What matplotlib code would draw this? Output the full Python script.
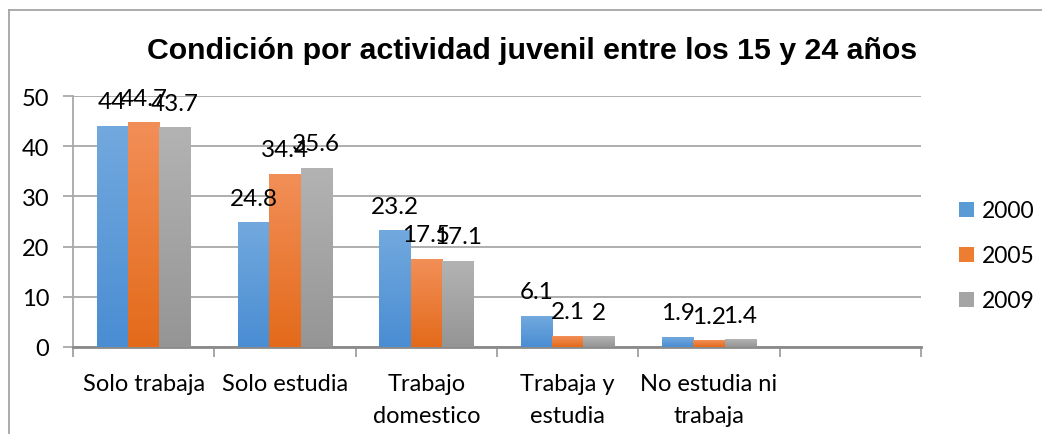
import numpy as np
import matplotlib.pyplot as plt
from matplotlib.colors import LinearSegmentedColormap
from matplotlib.lines import Line2D
from matplotlib.patches import Patch

# ---------------------------------------------------------------------------
# Data
# ---------------------------------------------------------------------------
categories = ['Solo trabaja', 'Solo estudia', 'Trabajo\ndomestico',
              'Trabaja y\nestudia', 'No estudia ni\ntrabaja', '']
years = ['2000', '2005', '2009']
v2000 = [44, 24.8, 23.2, 6.1, 1.9, None]
v2005 = [44.7, 34.4, 17.5, 2.1, 1.2, None]
v2009 = [43.7, 35.6, 17.1, 2, 1.4, None]
series = [v2000, v2005, v2009]

# gradient colours (top, bottom) per series
grad_colors = [('#72A9DE', '#4A8DD3'),
               ('#F28F58', '#E36A1A'),
               ('#B3B3B3', '#959595')]
legend_colors = ['#5B9BD5', '#ED7D31', '#A5A5A5']

TITLE = 'Condición por actividad juvenil entre los 15 y 24 años'
FONT = 'Lato'
FS = 17

# ---------------------------------------------------------------------------
# Figure
# ---------------------------------------------------------------------------
fig = plt.figure(figsize=(10.42, 4.35), dpi=100)
ax = fig.add_axes([73 / 1042, 1 - 348 / 435, (921 - 73) / 1042, (348 - 97) / 435])

n = len(categories)
x = np.arange(n)
bar_w = 0.222

for i, vals in enumerate(series):
    heights = [v if v is not None else 0 for v in vals]
    bars = ax.bar(x + (i - 1) * bar_w, heights, width=bar_w,
                  color=legend_colors[i], zorder=2, linewidth=0)
    cmap = LinearSegmentedColormap.from_list('g%d' % i, [grad_colors[i][1], grad_colors[i][0]])
    grad = np.linspace(0, 1, 256).reshape(-1, 1)
    for b, v in zip(bars, vals):
        if v is None:
            continue
        x0, w, h = b.get_x(), b.get_width(), b.get_height()
        ax.imshow(grad, extent=[x0, x0 + w, 0, h], origin='lower', aspect='auto',
                  cmap=cmap, zorder=3, interpolation='bilinear')
        ax.annotate(f'{v:g}', (x0 + w / 2, h), xytext=(0, 18), textcoords='offset pixels',
                    ha='center', va='baseline', fontsize=17.5, family=FONT, color='black',
                    zorder=5)

ax.set_xlim(-0.5, n - 0.5)
ax.set_ylim(0, 50)
ax.set_yticks(range(0, 51, 10))
ax.yaxis.grid(True, color='#A8A8A8', linewidth=1.3, zorder=0)
ax.set_axisbelow(True)

ax.set_xticks(x)
ax.set_xticklabels(categories, family=FONT, fontsize=FS, linespacing=1.6)
ax.set_xticks(np.arange(-0.5, n, 1), minor=True)
ax.tick_params(axis='x', which='major', length=0, pad=19)
ax.tick_params(axis='x', which='minor', length=7, width=1.3, color='#A0A0A0', direction='out')
ax.tick_params(axis='y', length=7, width=1.3, color='#A8A8A8', pad=10, labelsize=FS)
for lab in ax.get_yticklabels():
    lab.set_family(FONT)

for s in ['top', 'right']:
    ax.spines[s].set_visible(False)
ax.spines['bottom'].set_color('#8A8A8A')
ax.spines['bottom'].set_linewidth(2)
ax.spines['left'].set_color('#A8A8A8')
ax.spines['left'].set_linewidth(1.3)

# legend
handles = [Patch(facecolor=c, edgecolor='none') for c in legend_colors]
leg = ax.legend(handles, years, loc='center left', bbox_to_anchor=(1.045, 0.363),
                frameon=False, handlelength=0.65, handleheight=0.65, handletextpad=0.35,
                labelspacing=1.05, borderpad=0, borderaxespad=0,
                prop={'family': FONT, 'size': 16.5})

# title
fig.text(0.511, 1 - 51 / 435, TITLE, ha='center', va='center', fontsize=21.8,
         fontweight='bold', family='Liberation Sans')

# chart border (top and left visible)
fig.add_artist(Line2D([9 / 1042, 9 / 1042], [0, 1 - 11 / 435], color='#A5A5A5',
                      linewidth=1.3, transform=fig.transFigure))
fig.add_artist(Line2D([9 / 1042, 1], [1 - 11 / 435, 1 - 11 / 435], color='#A5A5A5',
                      linewidth=1.3, transform=fig.transFigure))

fig.savefig('out.png', dpi=100)
